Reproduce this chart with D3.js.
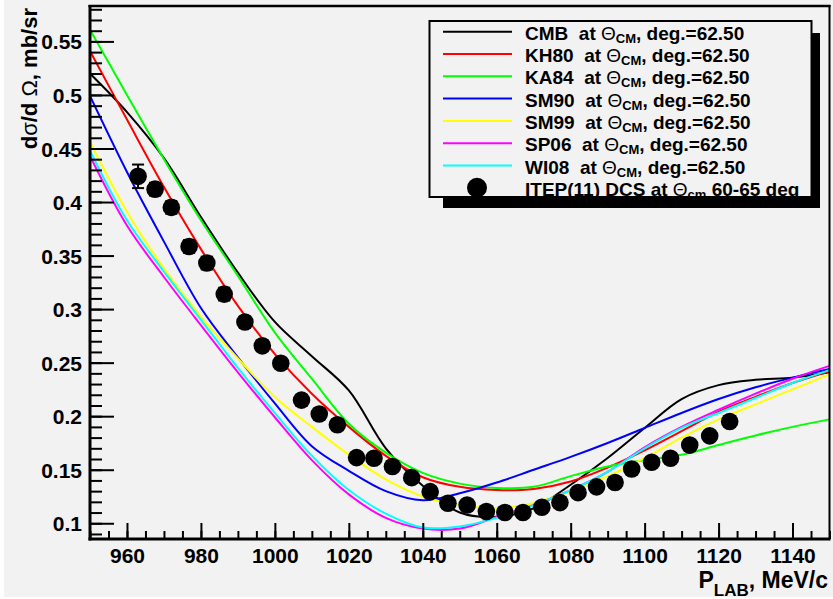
<html>
<head>
<meta charset="utf-8">
<script src="https://d3js.org/d3.v7.min.js"></script>
<style>
    body, html {
        margin: 0;
        padding: 0;
        background: #ffffff;
    }
    text {
        font-family: "Liberation Sans", Arial, sans-serif;
        font-weight: bold;
        fill: #000;
    }
</style>
</head>
<body>
<div id="my_dataviz"></div>
<script>

// momentum grid for the model curves (MeV/c)
var pGrid = [950, 960, 970, 980, 990, 1000, 1010, 1020, 1030, 1040, 1050,
             1060, 1070, 1080, 1090, 1100, 1110, 1120, 1130, 1140, 1150];

// model curves, dsigma/dOmega in mb/sr
var cmb  = [0.520, 0.484, 0.441, 0.386, 0.334, 0.288, 0.256, 0.224, 0.170, 0.135, 0.110,
            0.106, 0.114, 0.136, 0.161, 0.189, 0.216, 0.229, 0.234, 0.236, 0.241];
var kh80 = [0.541, 0.477, 0.414, 0.356, 0.303, 0.258, 0.221, 0.190, 0.163, 0.143, 0.134,
            0.131, 0.132, 0.139, 0.152, 0.168, 0.186, 0.204, 0.218, 0.231, 0.242];
var ka84 = [0.561, 0.500, 0.440, 0.383, 0.331, 0.278, 0.235, 0.193, 0.166, 0.147, 0.137,
            0.133, 0.134, 0.144, 0.153, 0.159, 0.164, 0.173, 0.182, 0.190, 0.197];
var sm90 = [0.499, 0.428, 0.363, 0.301, 0.255, 0.212, 0.172, 0.149, 0.130, 0.1215, 0.128,
            0.138, 0.150, 0.162, 0.175, 0.189, 0.203, 0.216, 0.227, 0.236, 0.244];
var sm99 = [0.456, 0.391, 0.338, 0.293, 0.254, 0.218, 0.190, 0.164, 0.141, 0.125, 0.117,
            0.114, 0.119, 0.130, 0.144, 0.161, 0.180, 0.197, 0.211, 0.225, 0.239];
var sp06 = [0.443, 0.378, 0.330, 0.285, 0.241, 0.199, 0.159, 0.127, 0.105, 0.095, 0.095,
            0.106, 0.117, 0.131, 0.148, 0.171, 0.190, 0.206, 0.221, 0.235, 0.247];
var wi08 = [0.448, 0.383, 0.335, 0.290, 0.245, 0.203, 0.163, 0.131, 0.109, 0.096, 0.097,
            0.105, 0.117, 0.131, 0.148, 0.170, 0.189, 0.203, 0.217, 0.231, 0.243];

// ITEP(11) measured points
var itepP   = [963, 967.6, 972, 976.8, 981.6, 986.3, 991.9, 996.6, 1001.6, 1007.2, 1012,
               1016.9, 1022.1, 1026.8, 1031.8, 1037, 1042, 1046.8, 1052, 1057.2, 1062.2,
               1067.1, 1072.2, 1077.1, 1082, 1087, 1092, 1096.5, 1101.9, 1107, 1112.2,
               1117.6, 1123];
var itepDcs = [0.424, 0.412, 0.395, 0.3585, 0.343, 0.314, 0.288, 0.2657, 0.2495, 0.215, 0.202,
               0.192, 0.1613, 0.1607, 0.153, 0.1426, 0.1295, 0.1187, 0.117, 0.1109, 0.110,
               0.110, 0.115, 0.1193, 0.1286, 0.134, 0.138, 0.1507, 0.157, 0.1607, 0.173,
               0.1816, 0.195];
var itepErr = [0.011, 0.006, 0.006, 0.006, 0.006, 0.006, 0.005, 0.005, 0.005, 0.005, 0.005,
               0.005, 0.004, 0.004, 0.004, 0.004, 0.004, 0.004, 0.004, 0.004, 0.004,
               0.004, 0.004, 0.004, 0.004, 0.004, 0.004, 0.004, 0.004, 0.004, 0.004,
               0.004, 0.005];

// tick labels
var xTicks = [960, 980, 1000, 1020, 1040, 1060, 1080, 1100, 1120, 1140];
var yTicks = [0.1, 0.15, 0.2, 0.25, 0.3, 0.35, 0.4, 0.45, 0.5, 0.55];

var modelNames  = ["CMB", "KH80", "KA84", "SM90", "SM99", "SP06", "WI08"];
var modelColors = ["#000000", "#ff0000", "#00ff00", "#0000ff", "#ffff00", "#ff00ff", "#00ffff"];
var modelValues = [cmb, kh80, ka84, sm90, sm99, sp06, wi08];

var w = 833;
var h = 599;

var frame = {left: 90, right: 829.5, top: 5, bottom: 539};

var svg = d3.select("#my_dataviz")
    .append("svg")
    .attr("width", w)
    .attr("height", h);

// canvas background (thin white border left and bottom)
svg.append("rect")
    .attr("x", 0).attr("y", 0).attr("width", w).attr("height", h)
    .attr("fill", "#ffffff");
svg.append("rect")
    .attr("x", 4).attr("y", 0).attr("width", w - 4).attr("height", h - 2)
    .attr("fill", "#f2f2f2");

var x = d3.scaleLinear()
    .domain([950, 1150])
    .range([frame.left, frame.right]);

var y = d3.scaleLinear()
    .domain([0.0853, 0.584])
    .range([frame.bottom, frame.top]);

svg.append("clipPath")
    .attr("id", "plotclip")
    .append("rect")
    .attr("x", frame.left).attr("y", frame.top)
    .attr("width", frame.right - frame.left)
    .attr("height", frame.bottom - frame.top);

// model curves
var line = d3.line()
    .x(function (d) { return x(d[0]); })
    .y(function (d) { return y(d[1]); })
    .curve(d3.curveCatmullRom.alpha(0.5));

var curves = svg.append("g").attr("clip-path", "url(#plotclip)");
modelValues.forEach(function (vals, i) {
    curves.append("path")
        .datum(pGrid.map(function (p, j) { return [p, vals[j]]; }))
        .attr("fill", "none")
        .attr("stroke", modelColors[i])
        .attr("stroke-width", 2)
        .attr("d", line);
});

// data points with error bars
var pts = itepP.map(function (p, i) { return {p: p, v: itepDcs[i], e: itepErr[i]}; });
var errs = svg.append("g").attr("stroke", "#000").attr("stroke-width", 2);
errs.selectAll("line.bar")
    .data(pts).enter().append("line")
    .attr("x1", function (d) { return x(d.p); })
    .attr("x2", function (d) { return x(d.p); })
    .attr("y1", function (d) { return y(d.v - d.e); })
    .attr("y2", function (d) { return y(d.v + d.e); });
errs.selectAll("line.capt")
    .data(pts).enter().append("line")
    .attr("x1", function (d) { return x(d.p) - 6; })
    .attr("x2", function (d) { return x(d.p) + 6; })
    .attr("y1", function (d) { return y(d.v + d.e); })
    .attr("y2", function (d) { return y(d.v + d.e); });
errs.selectAll("line.capb")
    .data(pts).enter().append("line")
    .attr("x1", function (d) { return x(d.p) - 6; })
    .attr("x2", function (d) { return x(d.p) + 6; })
    .attr("y1", function (d) { return y(d.v - d.e); })
    .attr("y2", function (d) { return y(d.v - d.e); });

svg.append("g")
    .selectAll("circle")
    .data(pts).enter().append("circle")
    .attr("cx", function (d) { return x(d.p); })
    .attr("cy", function (d) { return y(d.v); })
    .attr("r", 8.8)
    .attr("fill", "#000");

// Y axis (ticks inside the frame)
var yMajor = svg.append("g")
    .attr("transform", "translate(" + frame.left + ",0)")
    .call(d3.axisLeft(y).tickValues(yTicks).tickSize(-24).tickPadding(8)
        .tickFormat(function (d) { return String(+d.toFixed(2)); }));
var yMinor = svg.append("g")
    .attr("transform", "translate(" + frame.left + ",0)")
    .call(d3.axisLeft(y).ticks(50).tickSize(-12).tickFormat(""));

// X axis
var xMajor = svg.append("g")
    .attr("transform", "translate(0," + frame.bottom + ")")
    .call(d3.axisBottom(x).tickValues(xTicks).tickSize(-16).tickPadding(9)
        .tickFormat(d3.format("d")));
var xMinor = svg.append("g")
    .attr("transform", "translate(0," + frame.bottom + ")")
    .call(d3.axisBottom(x).ticks(40).tickSize(-8).tickFormat(""));

[yMajor, yMinor, xMajor, xMinor].forEach(function (g) {
    g.select(".domain").remove();
    g.selectAll(".tick line").attr("stroke", "#000").attr("stroke-width", 2);
});
[yMajor, xMajor].forEach(function (g) {
    g.selectAll(".tick text")
        .style("font-family", "'Liberation Sans', Arial, sans-serif")
        .style("font-weight", "bold")
        .style("font-size", "21px")
        .attr("fill", "#000");
});
yMajor.selectAll(".tick text").attr("dy", "0.36em");
xMajor.selectAll(".tick text").attr("dy", "0.72em");

// frame
svg.append("line")
    .attr("x1", frame.left - 1.5).attr("x2", frame.right + 1)
    .attr("y1", frame.top + 1).attr("y2", frame.top + 1)
    .attr("stroke", "#000").attr("stroke-width", 2.5);
svg.append("line")
    .attr("x1", frame.right).attr("x2", frame.right)
    .attr("y1", frame.top).attr("y2", frame.bottom)
    .attr("stroke", "#000").attr("stroke-width", 2);
svg.append("line")
    .attr("x1", frame.left).attr("x2", frame.left)
    .attr("y1", frame.top).attr("y2", frame.bottom + 1.5)
    .attr("stroke", "#000").attr("stroke-width", 3);
svg.append("line")
    .attr("x1", frame.left - 1.5).attr("x2", frame.right + 1)
    .attr("y1", frame.bottom).attr("y2", frame.bottom)
    .attr("stroke", "#000").attr("stroke-width", 3);

// Y axis label
var yTitle = svg.append("text")
    .attr("text-anchor", "end")
    .attr("transform", "rotate(-90)")
    .attr("x", -8)
    .attr("y", 37)
    .style("font-size", "22px");
yTitle.append("tspan").text("d");
yTitle.append("tspan").style("font-weight", "normal").text("σ");
yTitle.append("tspan").text("/d ");
yTitle.append("tspan").style("font-weight", "normal").text("Ω");
yTitle.append("tspan").text(", mb/sr");

// X axis label
var xTitle = svg.append("text")
    .attr("text-anchor", "end")
    .attr("x", 828)
    .attr("y", 588)
    .style("font-size", "23px");
xTitle.append("tspan").text("P");
xTitle.append("tspan").attr("dy", 8).style("font-size", "17px").text("LAB");
xTitle.append("tspan").attr("dy", -8).text(", MeV/c");

// legend
var leg = {x: 429.5, y: 21, w: 382, h: 176};
svg.append("rect")
    .attr("x", 443).attr("y", 33)
    .attr("width", 820 - 443).attr("height", 208 - 33)
    .attr("fill", "#000");
svg.append("rect")
    .attr("x", leg.x).attr("y", leg.y)
    .attr("width", leg.w).attr("height", leg.h)
    .attr("fill", "#f2f2f2")
    .attr("stroke", "#000")
    .attr("stroke-width", 2);

var rowY = function (i) { return 31.7 + i * 22.3; };

modelNames.forEach(function (name, i) {
    svg.append("line")
        .attr("x1", 443).attr("x2", 512)
        .attr("y1", rowY(i)).attr("y2", rowY(i))
        .attr("stroke", modelColors[i])
        .attr("stroke-width", 2);
    var t = svg.append("text")
        .attr("x", 525)
        .attr("y", rowY(i) + 8)
        .style("font-size", "19px")
        .style("white-space", "pre");
    t.append("tspan").text(name + "  at ");
    t.append("tspan").style("font-weight", "normal").text("Θ");
    t.append("tspan").attr("dy", 3).style("font-size", "13px").text("CM");
    t.append("tspan").attr("dy", -3).text(", deg.=62.50");
});

svg.append("circle")
    .attr("cx", 477).attr("cy", rowY(7))
    .attr("r", 10)
    .attr("fill", "#000");
var tl = svg.append("text")
    .attr("x", 525)
    .attr("y", rowY(7) + 8.5)
    .style("font-size", "19px")
    .style("white-space", "pre");
tl.append("tspan").text("ITEP(11) DCS at ");
tl.append("tspan").style("font-weight", "normal").text("Θ");
tl.append("tspan").attr("dy", 3).style("font-size", "13px").text("cm");
tl.append("tspan").attr("dy", -3).text(" 60-65 deg");

</script>
</body>
</html>
